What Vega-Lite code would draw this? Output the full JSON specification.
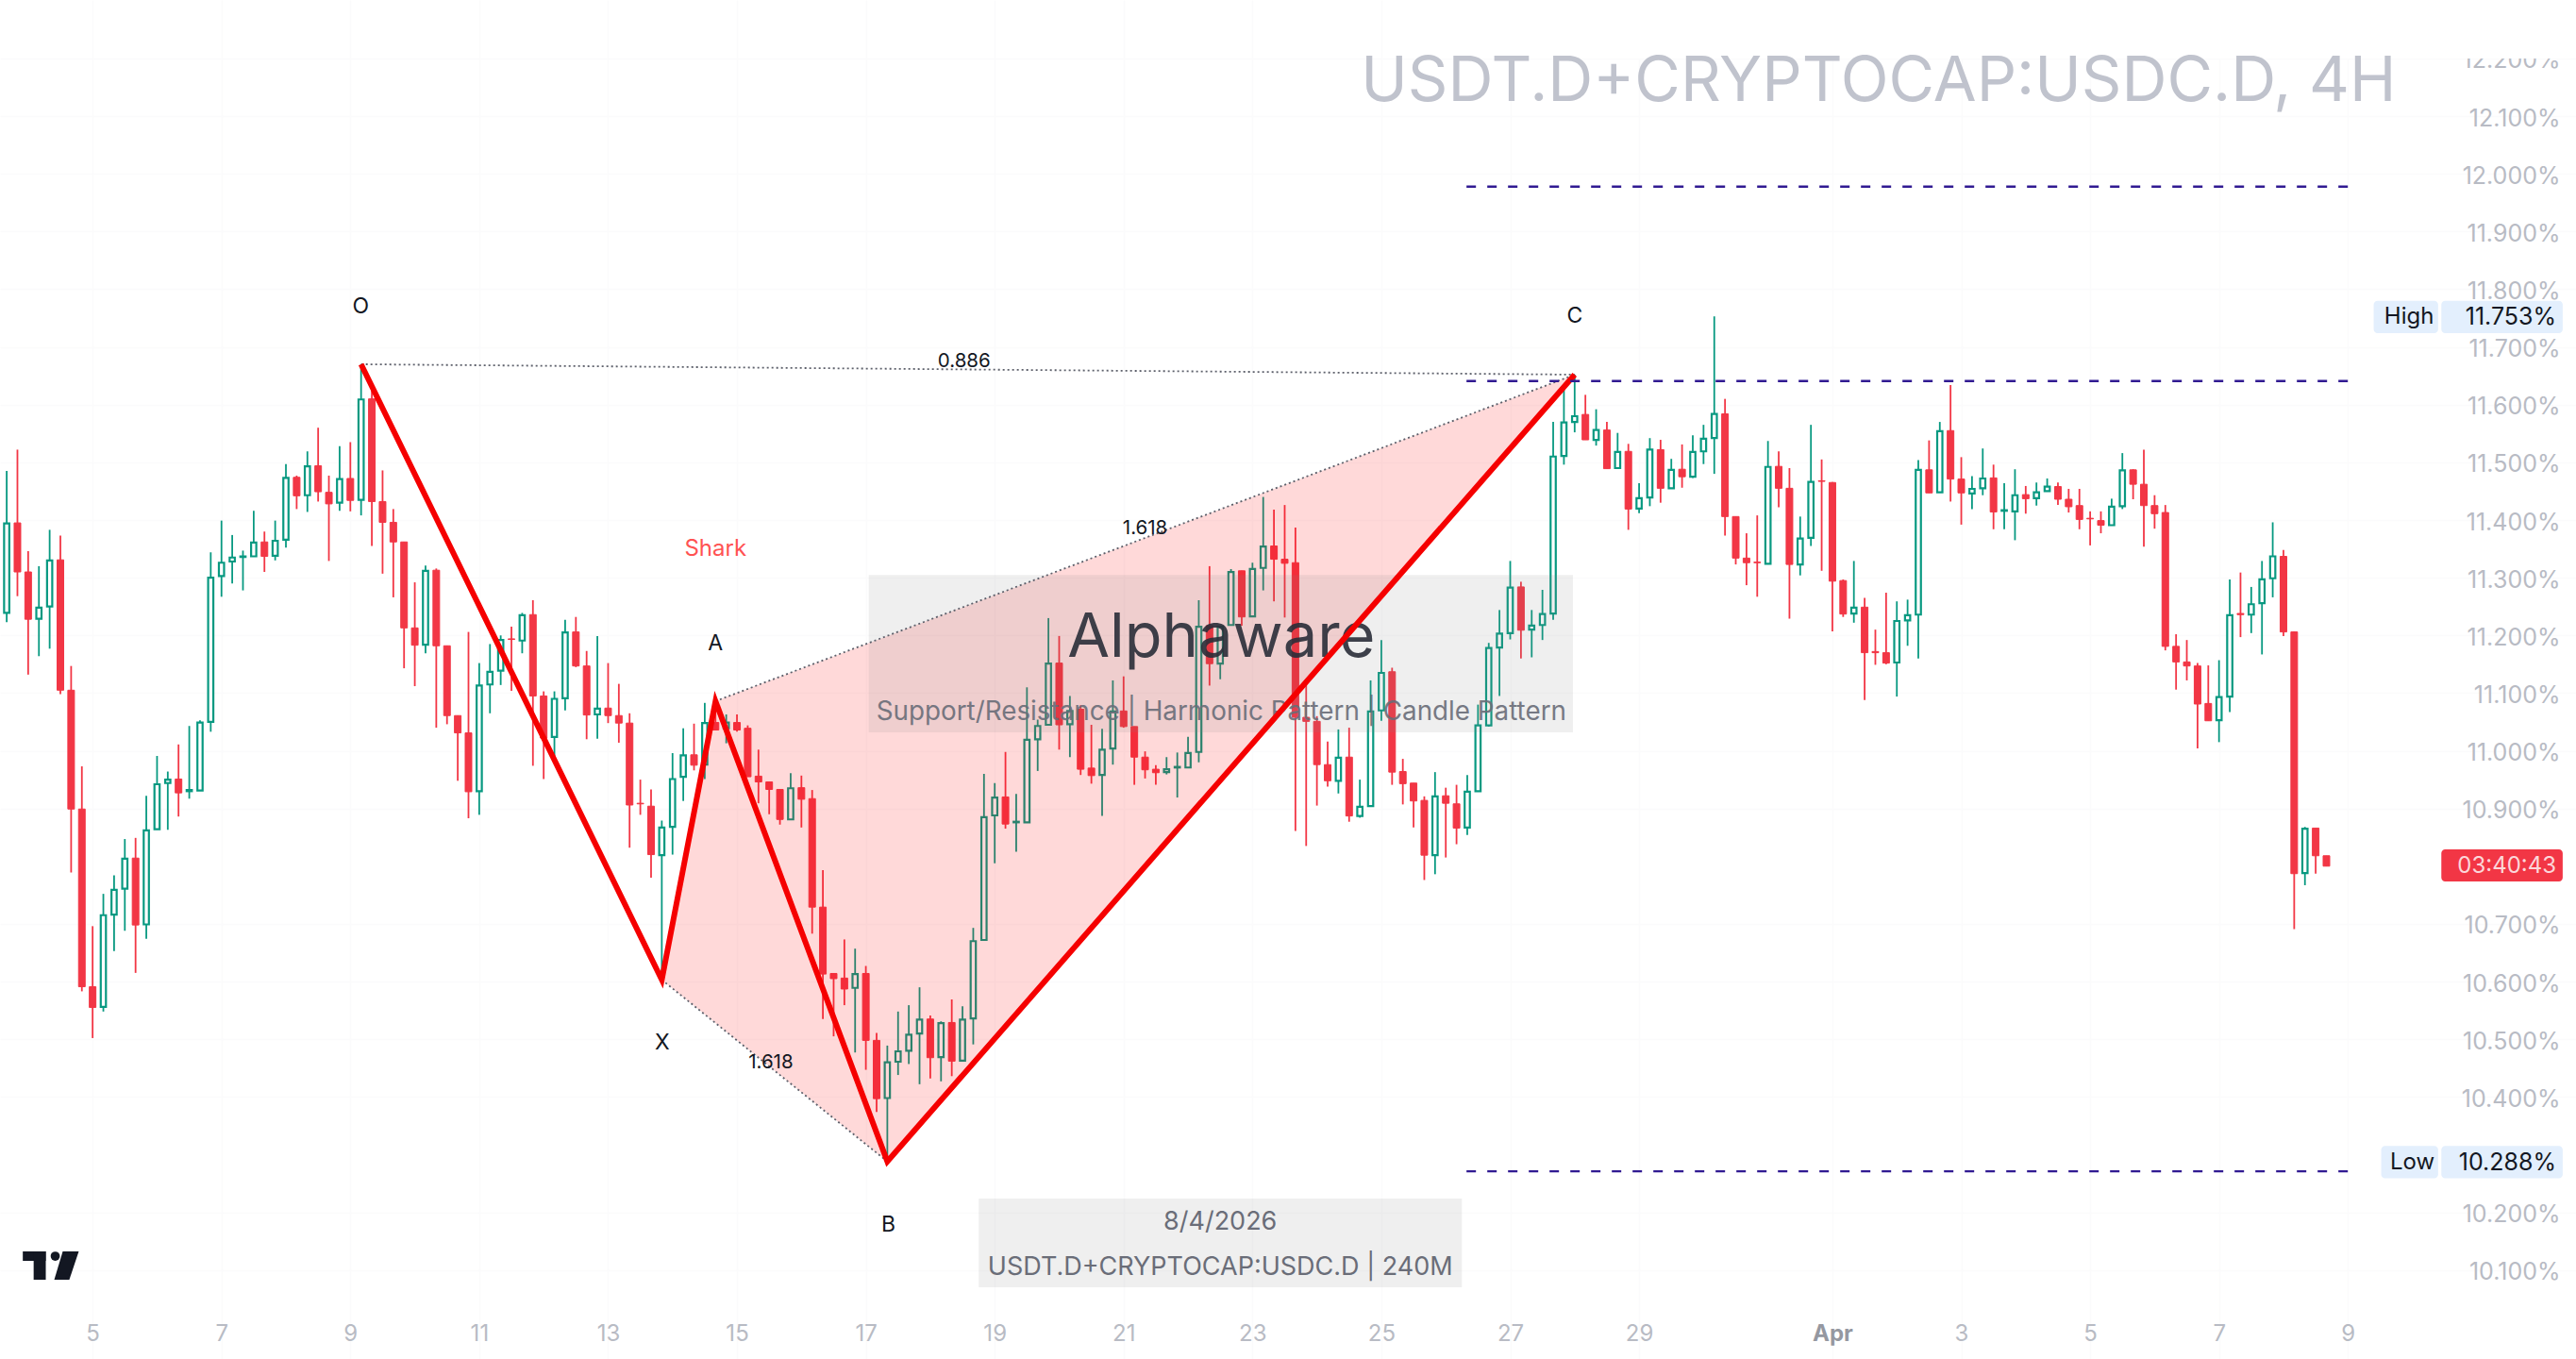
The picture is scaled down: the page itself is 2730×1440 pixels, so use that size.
{
  "$schema": "https://vega.github.io/schema/vega-lite/v6.json",
  "description": "USDT.D+CRYPTOCAP:USDC.D 4H candles with a shark harmonic pattern.",
  "width": 2730,
  "height": 1440,
  "padding": 0,
  "autosize": {"type": "none"},
  "background": "#ffffff",
  "config": {"view": {"stroke": null}, "text": {"font": "Inter"}},
  "datasets": {
    "candles": [
      {"i":0,"open":11.239,"high":11.485,"low":11.223,"close":11.394},
      {"i":1,"open":11.395,"high":11.522,"low":11.268,"close":11.310},
      {"i":2,"open":11.310,"high":11.346,"low":11.132,"close":11.228},
      {"i":3,"open":11.229,"high":11.320,"low":11.164,"close":11.248},
      {"i":4,"open":11.250,"high":11.383,"low":11.177,"close":11.330},
      {"i":5,"open":11.331,"high":11.373,"low":11.098,"close":11.105},
      {"i":6,"open":11.105,"high":11.147,"low":10.789,"close":10.899},
      {"i":7,"open":10.899,"high":10.973,"low":10.583,"close":10.591},
      {"i":8,"open":10.591,"high":10.696,"low":10.502,"close":10.555},
      {"i":9,"open":10.556,"high":10.752,"low":10.548,"close":10.715},
      {"i":10,"open":10.716,"high":10.784,"low":10.653,"close":10.759},
      {"i":11,"open":10.761,"high":10.847,"low":10.688,"close":10.813},
      {"i":12,"open":10.814,"high":10.849,"low":10.615,"close":10.698},
      {"i":13,"open":10.699,"high":10.922,"low":10.674,"close":10.862},
      {"i":14,"open":10.864,"high":10.991,"low":10.864,"close":10.942},
      {"i":15,"open":10.944,"high":10.964,"low":10.863,"close":10.950},
      {"i":16,"open":10.951,"high":11.011,"low":10.886,"close":10.927},
      {"i":17,"open":10.930,"high":11.043,"low":10.917,"close":10.932},
      {"i":18,"open":10.931,"high":11.053,"low":10.931,"close":11.049},
      {"i":19,"open":11.050,"high":11.344,"low":11.033,"close":11.300},
      {"i":20,"open":11.303,"high":11.399,"low":11.267,"close":11.326},
      {"i":21,"open":11.328,"high":11.374,"low":11.290,"close":11.335},
      {"i":22,"open":11.336,"high":11.347,"low":11.278,"close":11.337},
      {"i":23,"open":11.337,"high":11.416,"low":11.337,"close":11.361},
      {"i":24,"open":11.362,"high":11.380,"low":11.310,"close":11.337},
      {"i":25,"open":11.338,"high":11.399,"low":11.330,"close":11.364},
      {"i":26,"open":11.366,"high":11.497,"low":11.352,"close":11.473},
      {"i":27,"open":11.474,"high":11.477,"low":11.419,"close":11.442},
      {"i":28,"open":11.443,"high":11.519,"low":11.414,"close":11.493},
      {"i":29,"open":11.494,"high":11.560,"low":11.432,"close":11.449},
      {"i":30,"open":11.448,"high":11.477,"low":11.329,"close":11.428},
      {"i":31,"open":11.430,"high":11.528,"low":11.416,"close":11.471},
      {"i":32,"open":11.472,"high":11.535,"low":11.415,"close":11.434},
      {"i":33,"open":11.435,"high":11.670,"low":11.408,"close":11.609},
      {"i":34,"open":11.610,"high":11.627,"low":11.355,"close":11.432},
      {"i":35,"open":11.432,"high":11.486,"low":11.307,"close":11.396},
      {"i":36,"open":11.396,"high":11.419,"low":11.266,"close":11.362},
      {"i":37,"open":11.362,"high":11.362,"low":11.143,"close":11.213},
      {"i":38,"open":11.213,"high":11.292,"low":11.112,"close":11.183},
      {"i":39,"open":11.184,"high":11.321,"low":11.169,"close":11.312},
      {"i":40,"open":11.313,"high":11.316,"low":11.040,"close":11.182},
      {"i":41,"open":11.182,"high":11.182,"low":11.046,"close":11.061},
      {"i":42,"open":11.061,"high":11.061,"low":10.948,"close":11.031},
      {"i":43,"open":11.031,"high":11.206,"low":10.883,"close":10.929},
      {"i":44,"open":10.930,"high":11.152,"low":10.889,"close":11.113},
      {"i":45,"open":11.115,"high":11.185,"low":11.065,"close":11.137},
      {"i":46,"open":11.139,"high":11.200,"low":11.114,"close":11.192},
      {"i":47,"open":11.194,"high":11.215,"low":11.104,"close":11.193},
      {"i":48,"open":11.191,"high":11.239,"low":11.169,"close":11.235},
      {"i":49,"open":11.236,"high":11.261,"low":10.974,"close":11.095},
      {"i":50,"open":11.095,"high":11.103,"low":10.951,"close":11.022},
      {"i":51,"open":11.024,"high":11.103,"low":10.991,"close":11.090},
      {"i":52,"open":11.091,"high":11.227,"low":11.070,"close":11.205},
      {"i":53,"open":11.206,"high":11.232,"low":11.145,"close":11.147},
      {"i":54,"open":11.147,"high":11.173,"low":11.020,"close":11.062},
      {"i":55,"open":11.063,"high":11.199,"low":11.021,"close":11.073},
      {"i":56,"open":11.074,"high":11.152,"low":11.048,"close":11.061},
      {"i":57,"open":11.061,"high":11.116,"low":11.014,"close":11.048},
      {"i":58,"open":11.048,"high":11.065,"low":10.832,"close":10.906},
      {"i":59,"open":10.909,"high":10.950,"low":10.889,"close":10.908},
      {"i":60,"open":10.904,"high":10.933,"low":10.780,"close":10.820},
      {"i":61,"open":10.819,"high":10.879,"low":10.603,"close":10.867},
      {"i":62,"open":10.868,"high":10.996,"low":10.820,"close":10.951},
      {"i":63,"open":10.955,"high":11.039,"low":10.913,"close":10.992},
      {"i":64,"open":10.993,"high":11.047,"low":10.966,"close":10.975},
      {"i":65,"open":10.976,"high":11.083,"low":10.951,"close":11.048},
      {"i":66,"open":11.049,"high":11.086,"low":11.036,"close":11.036},
      {"i":67,"open":11.039,"high":11.063,"low":11.013,"close":11.049},
      {"i":68,"open":11.049,"high":11.063,"low":11.033,"close":11.036},
      {"i":69,"open":11.039,"high":11.044,"low":10.955,"close":10.955},
      {"i":70,"open":10.956,"high":11.002,"low":10.909,"close":10.946},
      {"i":71,"open":10.946,"high":10.946,"low":10.890,"close":10.933},
      {"i":72,"open":10.933,"high":10.933,"low":10.872,"close":10.881},
      {"i":73,"open":10.881,"high":10.961,"low":10.881,"close":10.935},
      {"i":74,"open":10.936,"high":10.957,"low":10.867,"close":10.916},
      {"i":75,"open":10.917,"high":10.932,"low":10.683,"close":10.729},
      {"i":76,"open":10.729,"high":10.793,"low":10.535,"close":10.613},
      {"i":77,"open":10.614,"high":10.614,"low":10.505,"close":10.605},
      {"i":78,"open":10.606,"high":10.673,"low":10.559,"close":10.587},
      {"i":79,"open":10.589,"high":10.657,"low":10.477,"close":10.613},
      {"i":80,"open":10.614,"high":10.627,"low":10.447,"close":10.498},
      {"i":81,"open":10.498,"high":10.511,"low":10.374,"close":10.397},
      {"i":82,"open":10.398,"high":10.489,"low":10.288,"close":10.460},
      {"i":83,"open":10.461,"high":10.548,"low":10.438,"close":10.479},
      {"i":84,"open":10.480,"high":10.559,"low":10.457,"close":10.508},
      {"i":85,"open":10.510,"high":10.590,"low":10.422,"close":10.534},
      {"i":86,"open":10.535,"high":10.541,"low":10.432,"close":10.468},
      {"i":87,"open":10.469,"high":10.531,"low":10.427,"close":10.528},
      {"i":88,"open":10.529,"high":10.569,"low":10.436,"close":10.462},
      {"i":89,"open":10.463,"high":10.557,"low":10.461,"close":10.534},
      {"i":90,"open":10.536,"high":10.693,"low":10.491,"close":10.670},
      {"i":91,"open":10.672,"high":10.960,"low":10.672,"close":10.885},
      {"i":92,"open":10.888,"high":10.944,"low":10.805,"close":10.919},
      {"i":93,"open":10.920,"high":10.998,"low":10.865,"close":10.873},
      {"i":94,"open":10.876,"high":10.925,"low":10.825,"close":10.877},
      {"i":95,"open":10.876,"high":11.110,"low":10.876,"close":11.019},
      {"i":96,"open":11.020,"high":11.054,"low":10.965,"close":11.043},
      {"i":97,"open":11.045,"high":11.230,"low":11.045,"close":11.151},
      {"i":98,"open":11.152,"high":11.199,"low":11.002,"close":11.045},
      {"i":99,"open":11.046,"high":11.095,"low":10.989,"close":11.069},
      {"i":100,"open":11.072,"high":11.079,"low":10.958,"close":10.968},
      {"i":101,"open":10.970,"high":11.045,"low":10.943,"close":10.957},
      {"i":102,"open":10.958,"high":11.038,"low":10.887,"close":11.002},
      {"i":103,"open":11.004,"high":11.122,"low":10.976,"close":11.068},
      {"i":104,"open":11.069,"high":11.129,"low":11.040,"close":11.042},
      {"i":105,"open":11.042,"high":11.042,"low":10.941,"close":10.989},
      {"i":106,"open":10.989,"high":10.999,"low":10.952,"close":10.967},
      {"i":107,"open":10.968,"high":10.975,"low":10.941,"close":10.962},
      {"i":108,"open":10.963,"high":10.989,"low":10.959,"close":10.968},
      {"i":109,"open":10.971,"high":10.997,"low":10.919,"close":10.972},
      {"i":110,"open":10.971,"high":11.024,"low":10.971,"close":10.996},
      {"i":111,"open":10.998,"high":11.261,"low":10.980,"close":11.215},
      {"i":112,"open":11.217,"high":11.320,"low":11.113,"close":11.151},
      {"i":113,"open":11.151,"high":11.217,"low":11.124,"close":11.215},
      {"i":114,"open":11.218,"high":11.315,"low":11.217,"close":11.310},
      {"i":115,"open":11.312,"high":11.312,"low":11.217,"close":11.232},
      {"i":116,"open":11.233,"high":11.326,"low":11.232,"close":11.315},
      {"i":117,"open":11.317,"high":11.440,"low":11.278,"close":11.354},
      {"i":118,"open":11.355,"high":11.418,"low":11.259,"close":11.332},
      {"i":119,"open":11.332,"high":11.426,"low":11.231,"close":11.325},
      {"i":120,"open":11.326,"high":11.387,"low":10.861,"close":11.058},
      {"i":121,"open":11.058,"high":11.123,"low":10.835,"close":11.051},
      {"i":122,"open":11.051,"high":11.060,"low":10.905,"close":10.976},
      {"i":123,"open":10.976,"high":11.016,"low":10.938,"close":10.948},
      {"i":124,"open":10.948,"high":11.037,"low":10.926,"close":10.988},
      {"i":125,"open":10.989,"high":11.040,"low":10.877,"close":10.887},
      {"i":126,"open":10.887,"high":10.950,"low":10.884,"close":10.903},
      {"i":127,"open":10.904,"high":11.122,"low":10.904,"close":11.068},
      {"i":128,"open":11.070,"high":11.192,"low":11.052,"close":11.135},
      {"i":129,"open":11.137,"high":11.144,"low":10.941,"close":10.963},
      {"i":130,"open":10.964,"high":10.986,"low":10.907,"close":10.943},
      {"i":131,"open":10.944,"high":10.944,"low":10.867,"close":10.913},
      {"i":132,"open":10.914,"high":10.921,"low":10.776,"close":10.819},
      {"i":133,"open":10.819,"high":10.963,"low":10.786,"close":10.921},
      {"i":134,"open":10.922,"high":10.936,"low":10.815,"close":10.909},
      {"i":135,"open":10.908,"high":10.941,"low":10.838,"close":10.866},
      {"i":136,"open":10.867,"high":10.958,"low":10.854,"close":10.929},
      {"i":137,"open":10.930,"high":11.080,"low":10.930,"close":11.044},
      {"i":138,"open":11.044,"high":11.187,"low":11.042,"close":11.178},
      {"i":139,"open":11.179,"high":11.244,"low":11.095,"close":11.203},
      {"i":140,"open":11.204,"high":11.329,"low":11.193,"close":11.283},
      {"i":141,"open":11.284,"high":11.293,"low":11.160,"close":11.209},
      {"i":142,"open":11.210,"high":11.244,"low":11.162,"close":11.217},
      {"i":143,"open":11.218,"high":11.279,"low":11.192,"close":11.237},
      {"i":144,"open":11.238,"high":11.570,"low":11.227,"close":11.510},
      {"i":145,"open":11.511,"high":11.630,"low":11.496,"close":11.569},
      {"i":146,"open":11.570,"high":11.652,"low":11.552,"close":11.580},
      {"i":147,"open":11.583,"high":11.617,"low":11.539,"close":11.539},
      {"i":148,"open":11.539,"high":11.592,"low":11.529,"close":11.556},
      {"i":149,"open":11.556,"high":11.570,"low":11.489,"close":11.489},
      {"i":150,"open":11.490,"high":11.551,"low":11.490,"close":11.518},
      {"i":151,"open":11.519,"high":11.532,"low":11.383,"close":11.419},
      {"i":152,"open":11.420,"high":11.464,"low":11.412,"close":11.438},
      {"i":153,"open":11.439,"high":11.542,"low":11.424,"close":11.522},
      {"i":154,"open":11.522,"high":11.539,"low":11.430,"close":11.455},
      {"i":155,"open":11.455,"high":11.506,"low":11.455,"close":11.487},
      {"i":156,"open":11.488,"high":11.531,"low":11.456,"close":11.475},
      {"i":157,"open":11.475,"high":11.547,"low":11.473,"close":11.518},
      {"i":158,"open":11.519,"high":11.565,"low":11.497,"close":11.541},
      {"i":159,"open":11.542,"high":11.753,"low":11.480,"close":11.584},
      {"i":160,"open":11.584,"high":11.610,"low":11.373,"close":11.406},
      {"i":161,"open":11.406,"high":11.406,"low":11.323,"close":11.334},
      {"i":162,"open":11.334,"high":11.377,"low":11.287,"close":11.326},
      {"i":163,"open":11.327,"high":11.408,"low":11.267,"close":11.326},
      {"i":164,"open":11.324,"high":11.537,"low":11.324,"close":11.492},
      {"i":165,"open":11.493,"high":11.519,"low":11.422,"close":11.455},
      {"i":166,"open":11.455,"high":11.490,"low":11.229,"close":11.323},
      {"i":167,"open":11.323,"high":11.406,"low":11.304,"close":11.368},
      {"i":168,"open":11.369,"high":11.565,"low":11.355,"close":11.466},
      {"i":169,"open":11.468,"high":11.505,"low":11.312,"close":11.467},
      {"i":170,"open":11.465,"high":11.466,"low":11.207,"close":11.294},
      {"i":171,"open":11.295,"high":11.297,"low":11.232,"close":11.237},
      {"i":172,"open":11.238,"high":11.329,"low":11.222,"close":11.248},
      {"i":173,"open":11.249,"high":11.265,"low":11.088,"close":11.170},
      {"i":174,"open":11.172,"high":11.210,"low":11.149,"close":11.170},
      {"i":175,"open":11.170,"high":11.274,"low":11.150,"close":11.152},
      {"i":176,"open":11.153,"high":11.259,"low":11.094,"close":11.225},
      {"i":177,"open":11.226,"high":11.262,"low":11.182,"close":11.235},
      {"i":178,"open":11.236,"high":11.504,"low":11.160,"close":11.487},
      {"i":179,"open":11.487,"high":11.538,"low":11.447,"close":11.447},
      {"i":180,"open":11.448,"high":11.570,"low":11.448,"close":11.554},
      {"i":181,"open":11.555,"high":11.634,"low":11.432,"close":11.471},
      {"i":182,"open":11.471,"high":11.509,"low":11.392,"close":11.447},
      {"i":183,"open":11.446,"high":11.476,"low":11.419,"close":11.454},
      {"i":184,"open":11.455,"high":11.524,"low":11.443,"close":11.472},
      {"i":185,"open":11.473,"high":11.496,"low":11.384,"close":11.414},
      {"i":186,"open":11.416,"high":11.464,"low":11.384,"close":11.417},
      {"i":187,"open":11.415,"high":11.488,"low":11.365,"close":11.443},
      {"i":188,"open":11.444,"high":11.459,"low":11.411,"close":11.437},
      {"i":189,"open":11.438,"high":11.465,"low":11.425,"close":11.448},
      {"i":190,"open":11.450,"high":11.472,"low":11.450,"close":11.458},
      {"i":191,"open":11.458,"high":11.465,"low":11.426,"close":11.436},
      {"i":192,"open":11.436,"high":11.454,"low":11.413,"close":11.423},
      {"i":193,"open":11.425,"high":11.454,"low":11.384,"close":11.401},
      {"i":194,"open":11.403,"high":11.415,"low":11.356,"close":11.402},
      {"i":195,"open":11.399,"high":11.415,"low":11.377,"close":11.391},
      {"i":196,"open":11.391,"high":11.437,"low":11.391,"close":11.423},
      {"i":197,"open":11.424,"high":11.516,"low":11.419,"close":11.486},
      {"i":198,"open":11.487,"high":11.488,"low":11.436,"close":11.462},
      {"i":199,"open":11.462,"high":11.522,"low":11.354,"close":11.425},
      {"i":200,"open":11.425,"high":11.443,"low":11.385,"close":11.411},
      {"i":201,"open":11.413,"high":11.426,"low":11.174,"close":11.181},
      {"i":202,"open":11.181,"high":11.202,"low":11.106,"close":11.154},
      {"i":203,"open":11.154,"high":11.192,"low":11.122,"close":11.147},
      {"i":204,"open":11.147,"high":11.152,"low":11.004,"close":11.081},
      {"i":205,"open":11.082,"high":11.148,"low":11.052,"close":11.052},
      {"i":206,"open":11.053,"high":11.157,"low":11.015,"close":11.093},
      {"i":207,"open":11.094,"high":11.297,"low":11.067,"close":11.235},
      {"i":208,"open":11.238,"high":11.309,"low":11.197,"close":11.236},
      {"i":209,"open":11.236,"high":11.284,"low":11.204,"close":11.254},
      {"i":210,"open":11.256,"high":11.329,"low":11.167,"close":11.297},
      {"i":211,"open":11.299,"high":11.396,"low":11.266,"close":11.337},
      {"i":212,"open":11.337,"high":11.348,"low":11.199,"close":11.206},
      {"i":213,"open":11.206,"high":11.207,"low":10.691,"close":10.787},
      {"i":214,"open":10.788,"high":10.868,"low":10.767,"close":10.865},
      {"i":215,"open":10.866,"high":10.866,"low":10.787,"close":10.818},
      {"i":216,"open":10.818,"high":10.818,"low":10.800,"close":10.800}
    ]
  },
  "encoding": {
    "x": {
      "field": "i",
      "type": "quantitative",
      "title": null,
      "scale": {"domain": [-0.184, 238.8], "nice": false, "zero": false},
      "axis": {
        "orient": "bottom",
        "offset": -27,
        "values": [8,20,32,44,56,68,80,92,104,116,128,140,152,170,182,194,206,218],
        "labelExpr": "datum.value==170?'Apr':datum.value<170?''+(5+(datum.value-8)/6):''+(1+(datum.value-170)/6)",
        "labelFont": "Inter",
        "labelFontSize": 24,
        "labelColor": {"condition": {"test": "datum.value==170", "value": "#9598a1"}, "value": "#b8bbc4"},
        "labelFontWeight": {"condition": {"test": "datum.value==170", "value": "bold"}, "value": "normal"},
        "labelBaseline": "middle",
        "labelPadding": 0,
        "labelOverlap": false,
        "labelFlush": false,
        "labelBound": false,
        "domain": false,
        "ticks": false,
        "grid": true,
        "gridColor": "#fbfbfc",
        "gridWidth": 1.5
      }
    },
    "y": {
      "field": "v",
      "type": "quantitative",
      "title": null,
      "scale": {"domain": [9.9457, 12.3014], "nice": false, "zero": false},
      "axis": {
        "orient": "right",
        "offset": -17,
        "values": [10.1,10.2,10.4,10.5,10.6,10.7,10.9,11,11.1,11.2,11.3,11.4,11.5,11.6,11.7,11.8,11.9,12,12.1,12.2],
        "labelExpr": "format(datum.value,'.3f')+'%'",
        "labelFont": "Inter",
        "labelFontSize": 25,
        "labelColor": "#b8bbc4",
        "labelAlign": "right",
        "labelBaseline": "middle",
        "labelOffset": 2,
        "labelPadding": 0,
        "labelOverlap": false,
        "labelBound": false,
        "domain": false,
        "ticks": false,
        "grid": true,
        "gridColor": "#fbfbfc",
        "gridWidth": 1.5
      }
    }
  },
  "layer": [
    {
      "data": {"name": "candles"},
      "mark": {"type": "rule", "strokeWidth": 1.8},
      "encoding": {
        "y": {
          "field": "high",
          "type": "quantitative",
          "title": null,
          "scale": {"domain": [9.9457, 12.3014], "nice": false, "zero": false},
          "axis": {
            "orient": "right",
            "offset": -17,
            "values": [10.1,10.2,10.4,10.5,10.6,10.7,10.9,11,11.1,11.2,11.3,11.4,11.5,11.6,11.7,11.8,11.9,12,12.1,12.2],
            "labelExpr": "format(datum.value,'.3f')+'%'",
            "labelFont": "Inter",
            "labelFontSize": 25,
            "labelColor": "#b8bbc4",
            "labelAlign": "right",
            "labelBaseline": "middle",
            "labelOffset": 2,
            "labelPadding": 0,
            "labelOverlap": false,
            "labelBound": false,
            "domain": false,
            "ticks": false,
            "grid": true,
            "gridColor": "#fbfbfc",
            "gridWidth": 1.5
          }
        },
        "y2": {"field": "low"},
        "color": {"condition": {"test": "datum.close>=datum.open", "value": "#089981"}, "value": "#f23645"}
      }
    },
    {
      "data": {"name": "candles"},
      "transform": [{"filter": "datum.close<datum.open"}],
      "mark": {"type": "bar", "size": 7, "color": "#f23645", "stroke": "#f23645", "strokeWidth": 1},
      "encoding": {
        "y": {
          "field": "open",
          "type": "quantitative",
          "title": null,
          "scale": {"domain": [9.9457, 12.3014], "nice": false, "zero": false},
          "axis": {
            "orient": "right",
            "offset": -17,
            "values": [10.1,10.2,10.4,10.5,10.6,10.7,10.9,11,11.1,11.2,11.3,11.4,11.5,11.6,11.7,11.8,11.9,12,12.1,12.2],
            "labelExpr": "format(datum.value,'.3f')+'%'",
            "labelFont": "Inter",
            "labelFontSize": 25,
            "labelColor": "#b8bbc4",
            "labelAlign": "right",
            "labelBaseline": "middle",
            "labelOffset": 2,
            "labelPadding": 0,
            "labelOverlap": false,
            "labelBound": false,
            "domain": false,
            "ticks": false,
            "grid": true,
            "gridColor": "#fbfbfc",
            "gridWidth": 1.5
          }
        },
        "y2": {"field": "close"}
      }
    },
    {
      "data": {"name": "candles"},
      "transform": [{"filter": "datum.close>=datum.open"}],
      "mark": {"type": "bar", "size": 5.5, "fill": "#ffffff", "stroke": "#089981", "strokeWidth": 2.2},
      "encoding": {
        "y": {
          "field": "open",
          "type": "quantitative",
          "title": null,
          "scale": {"domain": [9.9457, 12.3014], "nice": false, "zero": false},
          "axis": {
            "orient": "right",
            "offset": -17,
            "values": [10.1,10.2,10.4,10.5,10.6,10.7,10.9,11,11.1,11.2,11.3,11.4,11.5,11.6,11.7,11.8,11.9,12,12.1,12.2],
            "labelExpr": "format(datum.value,'.3f')+'%'",
            "labelFont": "Inter",
            "labelFontSize": 25,
            "labelColor": "#b8bbc4",
            "labelAlign": "right",
            "labelBaseline": "middle",
            "labelOffset": 2,
            "labelPadding": 0,
            "labelOverlap": false,
            "labelBound": false,
            "domain": false,
            "ticks": false,
            "grid": true,
            "gridColor": "#fbfbfc",
            "gridWidth": 1.5
          }
        },
        "y2": {"field": "close"}
      }
    },
    {
      "data": {"values": [{"i": 130, "i2": 238.8, "v": 12.2, "v2": 12.3014}]},
      "mark": {"type": "rect", "fill": "#ffffff"},
      "encoding": {"x2": {"field": "i2"}, "y2": {"field": "v2"}}
    },
    {
      "data": {"values": [
        {"i": 61, "v": 10.603, "v2": 10.603},
        {"i": 66, "v": 11.086, "v2": 10.528},
        {"i": 82, "v": 11.199, "v2": 10.288},
        {"i": 146, "v": 11.652, "v2": 11.652}
      ]},
      "mark": {"type": "area", "orient": "vertical", "fill": "#ff0000", "opacity": 0.15},
      "encoding": {"y2": {"field": "v2"}}
    },
    {
      "data": {"values": [
        {"i": 80.27, "i2": 145.84, "v": 11.3047, "v2": 11.032},
        {"i": 90.51, "i2": 135.5, "v": 10.224, "v2": 10.07}
      ]},
      "mark": {"type": "rect", "fill": "#808080", "opacity": 0.13},
      "encoding": {"x2": {"field": "i2"}, "y2": {"field": "v2"}}
    },
    {
      "data": {"values": [{"i": 113.1, "v": 11.163, "label": "Alphaware"}]},
      "mark": {"type": "text", "font": "Inter", "fontSize": 65, "color": "#2a2e39", "opacity": 0.9, "align": "center", "baseline": "alphabetic"},
      "encoding": {"text": {"field": "label"}}
    },
    {
      "data": {"values": [{"i": 113.1, "v": 11.054, "label": "Support/Resistance | Harmonic Pattern | Candle Pattern"}]},
      "mark": {"type": "text", "font": "Inter", "fontSize": 27.8, "color": "#6a6d78", "opacity": 0.9, "align": "center", "baseline": "alphabetic"},
      "encoding": {"text": {"field": "label"}}
    },
    {
      "data": {"values": [
        {"i": 113, "v": 10.17, "label": "8/4/2026"},
        {"i": 113, "v": 10.091, "label": "USDT.D+CRYPTOCAP:USDC.D | 240M"}
      ]},
      "mark": {"type": "text", "font": "Inter", "fontSize": 27, "color": "#6a6d78", "align": "center", "baseline": "alphabetic"},
      "encoding": {"text": {"field": "label"}}
    },
    {
      "data": {"values": [
        {"leg": "OC", "i": 33, "v": 11.67},
        {"leg": "OC", "i": 146, "v": 11.652},
        {"leg": "AC", "i": 66, "v": 11.086},
        {"leg": "AC", "i": 146, "v": 11.652},
        {"leg": "XB", "i": 61, "v": 10.603},
        {"leg": "XB", "i": 82, "v": 10.288}
      ]},
      "mark": {"type": "line", "stroke": "#5d606b", "strokeWidth": 1.8, "strokeDash": [2, 3]},
      "encoding": {"detail": {"field": "leg"}}
    },
    {
      "data": {"values": [
        {"i": 33, "v": 11.67},
        {"i": 61, "v": 10.603},
        {"i": 66, "v": 11.086},
        {"i": 82, "v": 10.288},
        {"i": 146, "v": 11.652}
      ]},
      "mark": {"type": "line", "stroke": "#f50000", "strokeWidth": 6, "strokeJoin": "miter"},
      "encoding": {}
    },
    {
      "data": {"values": [
        {"i": 135.93, "i2": 218.1, "v": 11.978},
        {"i": 135.93, "i2": 218.1, "v": 11.641},
        {"i": 135.93, "i2": 218.1, "v": 10.271}
      ]},
      "mark": {"type": "rule", "stroke": "#311b92", "strokeWidth": 2.4, "strokeDash": [10, 12]},
      "encoding": {"x2": {"field": "i2"}}
    },
    {
      "data": {"values": [
        {"i": 32.97, "v": 11.7695, "label": "O"},
        {"i": 146, "v": 11.7535, "label": "C"},
        {"i": 66, "v": 11.1865, "label": "A"},
        {"i": 61.05, "v": 10.4935, "label": "X"},
        {"i": 82.1, "v": 10.1785, "label": "B"}
      ]},
      "mark": {"type": "text", "font": "Inter", "fontSize": 23, "color": "#131722", "align": "center", "baseline": "middle"},
      "encoding": {"text": {"field": "label"}}
    },
    {
      "data": {"values": [{"i": 66, "v": 11.349, "label": "Shark"}]},
      "mark": {"type": "text", "font": "Inter", "fontSize": 24, "color": "#ff5252", "align": "center", "baseline": "middle"},
      "encoding": {"text": {"field": "label"}}
    },
    {
      "data": {"values": [
        {"i": 71.15, "v": 10.459, "label": "1.618"},
        {"i": 106, "v": 11.385, "label": "1.618"},
        {"i": 89.15, "v": 11.675, "label": "0.886"}
      ]},
      "mark": {"type": "text", "font": "Inter", "fontSize": 20.5, "color": "#131722", "align": "center", "baseline": "middle"},
      "encoding": {"text": {"field": "label"}}
    },
    {
      "data": {"values": [{"i": 174.3, "v": 12.126, "label": "USDT.D+CRYPTOCAP:USDC.D, 4H"}]},
      "mark": {"type": "text", "font": "Inter", "fontSize": 66.5, "color": "#c0c3cd", "align": "center", "baseline": "alphabetic"},
      "encoding": {"text": {"field": "label"}}
    },
    {
      "data": {"values": [
        {"i": 220.4, "i2": 226.4, "v": 11.78, "v2": 11.724},
        {"i": 226.7, "i2": 238, "v": 11.78, "v2": 11.724},
        {"i": 221.1, "i2": 226.4, "v": 10.315, "v2": 10.259},
        {"i": 226.7, "i2": 238, "v": 10.315, "v2": 10.259}
      ]},
      "mark": {"type": "rect", "fill": "#e3effd", "cornerRadius": 4},
      "encoding": {"x2": {"field": "i2"}, "y2": {"field": "v2"}}
    },
    {
      "data": {"values": [{"i": 226.7, "i2": 238, "v": 10.829, "v2": 10.7735}]},
      "mark": {"type": "rect", "fill": "#f23645", "cornerRadius": 4},
      "encoding": {"x2": {"field": "i2"}, "y2": {"field": "v2"}}
    },
    {
      "data": {"values": [
        {"i": 223.7, "v": 11.751, "label": "High"},
        {"i": 224, "v": 10.286, "label": "Low"}
      ]},
      "mark": {"type": "text", "font": "Inter", "fontSize": 24, "color": "#131722", "align": "center", "baseline": "middle"},
      "encoding": {"text": {"field": "label"}}
    },
    {
      "data": {"values": [
        {"i": 237.4, "v": 11.751, "label": "11.753%"},
        {"i": 237.4, "v": 10.286, "label": "10.288%"}
      ]},
      "mark": {"type": "text", "font": "Inter", "fontSize": 25, "color": "#131722", "align": "right", "baseline": "middle"},
      "encoding": {"text": {"field": "label"}}
    },
    {
      "data": {"values": [{"i": 237.4, "v": 10.799, "label": "03:40:43"}]},
      "mark": {"type": "text", "font": "Inter", "fontSize": 24, "color": "#fcd7da", "align": "right", "baseline": "middle"},
      "encoding": {"text": {"field": "label"}}
    },
    {
      "data": {"values": [
        {"i": 1.5, "i2": 3.64, "v": 10.132, "v2": 10.116},
        {"i": 2.51, "i2": 3.64, "v": 10.132, "v2": 10.083}
      ]},
      "mark": {"type": "rect", "fill": "#131722"},
      "encoding": {"x2": {"field": "i2"}, "y2": {"field": "v2"}}
    },
    {
      "data": {"values": [{"i": 4.52, "v": 10.124}]},
      "mark": {"type": "point", "shape": "circle", "filled": true, "size": 95, "color": "#131722", "opacity": 1},
      "encoding": {}
    },
    {
      "data": {"values": [
        {"i": 4.43, "v": 10.083, "v2": 10.083},
        {"i": 5.22, "v": 10.132, "v2": 10.083},
        {"i": 5.83, "v": 10.132, "v2": 10.083},
        {"i": 6.71, "v": 10.132, "v2": 10.132}
      ]},
      "mark": {"type": "area", "orient": "vertical", "fill": "#131722"},
      "encoding": {"y2": {"field": "v2"}}
    }
  ]
}
